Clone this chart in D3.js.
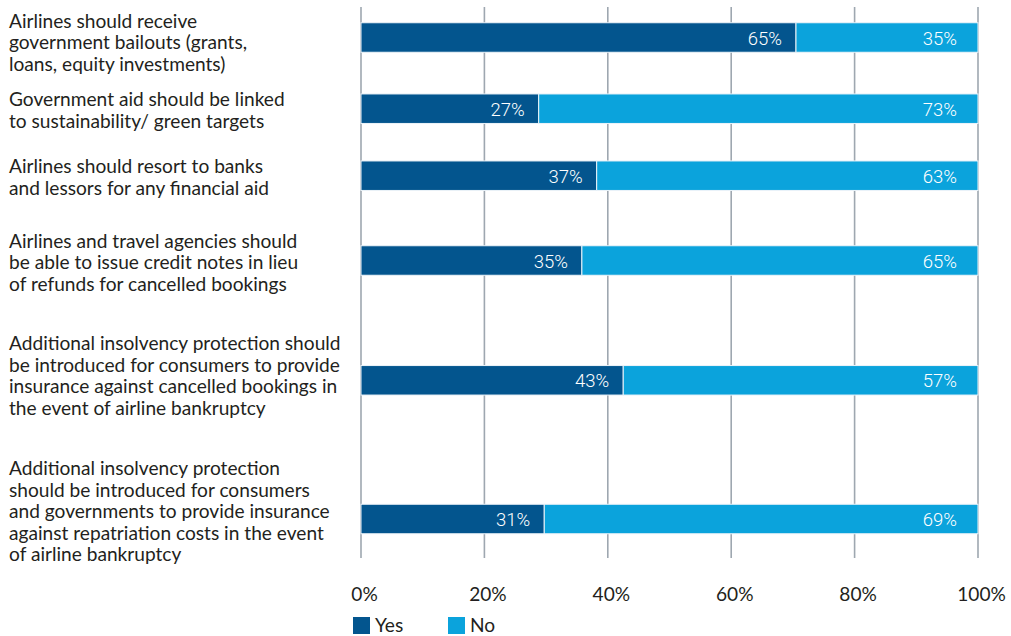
<!DOCTYPE html>
<html>
<head>
<meta charset="utf-8">
<script src="https://cdn.jsdelivr.net/npm/d3@7"></script>
<style>
  html, body { margin: 0; padding: 0; background: #fff; }
  svg { display: block; }
</style>
</head>
<body>
<svg id="chart" width="1011" height="636"></svg>
<script>
// ---- data ----
const categories = [
  "Airlines should receive government bailouts (grants, loans, equity investments)",
  "Government aid should be linked to sustainability/ green targets",
  "Airlines should resort to banks and lessors for any financial aid",
  "Airlines and travel agencies should be able to issue credit notes in lieu of refunds for cancelled bookings",
  "Additional insolvency protection should be introduced for consumers to provide insurance against cancelled bookings in the event of airline bankruptcy",
  "Additional insolvency protection should be introduced for consumers and governments to provide insurance against repatriation costs in the event of airline bankruptcy"
];
const categoryLines = [
  ["Airlines should receive", "government bailouts (grants,", "loans, equity investments)"],
  ["Government aid should be linked", "to sustainability/ green targets"],
  ["Airlines should resort to banks", "and lessors for any financial aid"],
  ["Airlines and travel agencies should", "be able to issue credit notes in lieu", "of refunds for cancelled bookings"],
  ["Additional insolvency protection should", "be introduced for consumers to provide", "insurance against cancelled bookings in", "the event of airline bankruptcy"],
  ["Additional insolvency protection", "should be introduced for consumers", "and governments to provide insurance", "against repatriation costs in the event", "of airline bankruptcy"]
];
// bar lengths as drawn in the picture (share of the 0-100% axis)
const yesShare = [70.5, 28.8, 38.2, 35.8, 42.5, 29.7];
const noShare = yesShare.map(v => 100 - v);
// printed value labels
const yesLabels = ["65%", "27%", "37%", "35%", "43%", "31%"];
const noLabels  = ["35%", "73%", "63%", "65%", "57%", "69%"];
const seriesNames = ["Yes", "No"];
const tickValues = [0, 20, 40, 60, 80, 100];

// ---- layout ----
const rowCenters = [37.5, 108.7, 175.7, 260.5, 380.3, 519];
const labelFirstBaseline = [27.7, 106, 173.3, 247.5, 350, 475];
const lineHeight = 21.5;
const barHeight = 29.5;
const colors = { Yes: "#03558e", No: "#0ba3dc" };
const textFont = "Lato, 'Open Sans', sans-serif";
const valueFont = "Roboto, 'Noto Sans', sans-serif";

const svg = d3.select("#chart");
const x = d3.scaleLinear().domain([0, 100]).range([361, 978]);
const y = d3.scaleOrdinal().domain(categories).range(rowCenters);
const color = d3.scaleOrdinal().domain(seriesNames).range([colors.Yes, colors.No]);

// gridlines
svg.append("g").selectAll("line").data(tickValues).join("line")
  .attr("x1", d => x(d)).attr("x2", d => x(d))
  .attr("y1", 7).attr("y2", 558)
  .attr("stroke", "#9ea7b0").attr("stroke-width", 1.6);

// stacked bars
const rows = categories.map((c, i) => ({ cat: c, Yes: yesShare[i], No: noShare[i], i }));
const stack = d3.stack().keys(seriesNames)(rows);

svg.append("g").selectAll("g").data(stack).join("g")
  .attr("fill", s => color(s.key))
  .selectAll("rect").data(s => s).join("rect")
  .attr("x", d => x(d[0]))
  .attr("width", d => x(d[1]) - x(d[0]))
  .attr("y", d => y(d.data.cat) - barHeight / 2)
  .attr("height", barHeight)
  .attr("stroke", "#eef4f9").attr("stroke-width", 1);

// value labels
const vl = svg.append("g").attr("fill", "#ffffff")
  .style("font-family", valueFont).style("font-weight", 300).style("font-size", "18.5px")
  .attr("text-anchor", "end");
vl.selectAll("text.yes").data(rows).join("text").attr("class", "yes")
  .attr("x", d => x(d.Yes) - 14)
  .attr("y", d => y(d.cat) + 7)
  .text((d, i) => yesLabels[i]);
vl.selectAll("text.no").data(rows).join("text").attr("class", "no")
  .attr("x", x(100) - 21)
  .attr("y", d => y(d.cat) + 7)
  .text((d, i) => noLabels[i]);

// category labels (left)
const lab = svg.append("g").attr("fill", "#231f20")
  .style("font-family", textFont).style("font-size", "17px");
const labTexts = lab.selectAll("text").data(categoryLines).join("text")
  .attr("x", 9)
  .attr("y", (d, i) => labelFirstBaseline[i]);
labTexts.selectAll("tspan").data(d => d).join("tspan")
  .attr("x", 9)
  .attr("dy", (d, j) => j === 0 ? 0 : lineHeight)
  .text(d => d);
// fit font size so the longest line matches the picture's width (~331px)
let probe = lab.append("text").text("be introduced for consumers to provide");
const w = probe.node().getComputedTextLength();
probe.remove();
const fs = 17 * 331 / w;
lab.style("font-size", fs + "px");

// x axis tick labels
const axis = d3.axisBottom(x).tickValues(tickValues).tickSize(0).tickFormat(d => d + "%");
const ag = svg.append("g").attr("transform", "translate(3,579)").call(axis);
ag.select(".domain").remove();
ag.selectAll("text")
  .attr("fill", "#231f20")
  .style("font-family", textFont).style("font-size", fs + "px")
  .attr("dy", "1.0em");

// legend
const leg = svg.append("g").attr("transform", "translate(353,617)");
const li = leg.selectAll("g").data(seriesNames).join("g")
  .attr("transform", (d, i) => `translate(${i * 95},0)`);
li.append("rect").attr("width", 17).attr("height", 17).attr("fill", d => color(d));
li.append("text").attr("x", 22).attr("y", 14.5)
  .attr("fill", "#231f20")
  .style("font-family", textFont).style("font-size", fs + "px")
  .text(d => d);
</script>
</body>
</html>
